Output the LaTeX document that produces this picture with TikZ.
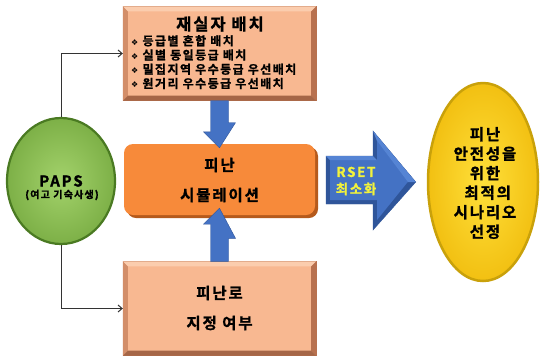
\documentclass[tikz,border=0pt]{standalone}
\usepackage{fontspec}
\setmainfont{Noto Sans CJK KR}[LetterSpace=12, BoldFont={Noto Sans CJK KR Bold}, BoldFeatures={FakeBold=1.2}]
\newfontfamily\dejavu{DejaVu Sans}
\usetikzlibrary{shapes.geometric,arrows.meta}
\definecolor{peach}{HTML}{F8B891}
\definecolor{peachL}{HTML}{FBCDAE}
\definecolor{peachD}{HTML}{D38E69}
\definecolor{peachDD}{HTML}{B8714F}
\definecolor{orangeM}{HTML}{F78A3A}
\definecolor{orangeD}{HTML}{B55A1C}
\definecolor{blueM}{HTML}{4472C4}
\definecolor{blueL}{HTML}{5584D4}
\definecolor{blueD}{HTML}{2F559A}
\definecolor{greenL}{HTML}{A3D26B}
\definecolor{greenM}{HTML}{7DB047}
\definecolor{greenD}{HTML}{4A7A22}
\definecolor{yelL}{HTML}{FFE03A}
\definecolor{yelM}{HTML}{F2C012}
\definecolor{yelD}{HTML}{C9A10A}
\definecolor{rsetY}{HTML}{F2F23C}
\tikzset{
  bevbox/.style={fill=peach, draw=peachDD, line width=0.4pt, inner sep=0pt},
  simbox/.style={fill=orangeM, rounded corners=9pt, inner sep=0pt},
  blockarrow/.style={fill=blueM, draw=blueD, line width=0.4pt},
  conn/.style={draw=black!80, line width=1pt, -{Straight Barb[length=4pt,width=7pt]}},
  kb/.style={font=\bfseries, text=black, inner sep=0pt},
}
\newcommand{\bul}{{\dejavu\fontsize{8}{10}\selectfont ❖}}
\begin{document}
\begin{tikzpicture}[x=1pt,y=-1pt]
\useasboundingbox (0,0) rectangle (541,360);
\fill[white] (0,0) rectangle (541,360);

% top bevel box
\node[bevbox, minimum width=193pt, minimum height=94pt] (top) at (219.5,53.5) {};
\fill[peachL] (top.north west) -- (top.north east) -- ([shift={(-5,5)}]top.north east) -- ([shift={(5,5)}]top.north west) -- cycle;
\fill[peachD] (top.north west) -- ([shift={(5,5)}]top.north west) -- ([shift={(5,-5)}]top.south west) -- (top.south west) -- cycle;
\fill[peachDD] (top.north east) -- ([shift={(-5,5)}]top.north east) -- ([shift={(-5,-5)}]top.south east) -- (top.south east) -- cycle;
\fill[peachDD!90!black] (top.south west) -- ([shift={(5,-5)}]top.south west) -- ([shift={(-5,-5)}]top.south east) -- (top.south east) -- cycle;
\node[kb, font=\fontsize{16.5}{18}\selectfont\bfseries] (toptitle) at (220,24) {재실자 배치};
\node[kb, anchor=north west, align=left, font=\fontsize{12}{14.2}\selectfont\bfseries] (toplist) at (131,35)
 {\bul\ 등급별 혼합 배치\\
  \bul\ 실별 동일등급 배치\\
  \bul\ 밀집지역 우수등급 우선배치\\
  \bul\ 원거리 우수등급 우선배치};

% center rounded box
\fill[orangeD, rounded corners=9pt] (127,147) rectangle (318,218);
\node[simbox, minimum width=191pt, minimum height=71pt] (sim) at (219.5,179.5) {};
\node[kb, font=\fontsize{15.5}{17}\selectfont\bfseries] (simt1) at (219.5,165) {피난};
\node[kb, font=\fontsize{15.5}{17}\selectfont\bfseries] (simt2) at (219.5,195) {시뮬레이션};

% bottom bevel box
\node[bevbox, minimum width=193pt, minimum height=94pt] (bot) at (219.5,308.5) {};
\fill[peachL] (bot.north west) -- (bot.north east) -- ([shift={(-5,5)}]bot.north east) -- ([shift={(5,5)}]bot.north west) -- cycle;
\fill[peachD] (bot.north west) -- ([shift={(5,5)}]bot.north west) -- ([shift={(5,-5)}]bot.south west) -- (bot.south west) -- cycle;
\fill[peachDD] (bot.north east) -- ([shift={(-5,5)}]bot.north east) -- ([shift={(-5,-5)}]bot.south east) -- (bot.south east) -- cycle;
\fill[peachDD!90!black] (bot.south west) -- ([shift={(5,-5)}]bot.south west) -- ([shift={(-5,-5)}]bot.south east) -- (bot.south east) -- cycle;
\node[kb, font=\fontsize{15.5}{17}\selectfont\bfseries] (bott1) at (219.5,293) {피난로};
\node[kb, font=\fontsize{15.5}{17}\selectfont\bfseries] (bott2) at (219.5,323) {지정 여부};

% block arrows between boxes
\filldraw[blockarrow] ([xshift=-9pt]top.south) -- ([xshift=9pt]top.south) -- ++(0,22) -- ++(7,0)
   -- ([yshift=-4pt]sim.north) -- ++(-16,-16) -- ++(7,0) -- cycle;
\filldraw[blockarrow] ([xshift=-9pt]bot.north) -- ([xshift=9pt]bot.north) -- ++(0,-23) -- ++(7,0)
   -- ([yshift=7pt]sim.south) -- ++(-16,16) -- ++(7,0) -- cycle;

% green ellipse
\node[ellipse, minimum width=108pt, minimum height=126pt, draw=greenD, line width=2.2pt,
      inner color=greenL, outer color=greenM] (paps) at (61,181) {};
\node[kb, font=\fontsize{15}{16}\selectfont\bfseries] (papst) at (61,181) {PAPS};
\node[kb, font=\fontsize{10}{11}\selectfont\bfseries] (papss) at (62,195) {(여고 기숙사생)};

% connectors
\draw[conn] (paps.north) |- (top.west);
\draw[conn] (paps.south) |- (bot.west);

% yellow ellipse
\node[ellipse, minimum width=110pt, minimum height=198pt, draw=yelD, line width=2.5pt,
      inner color=yelL, outer color=yelM] (res) at (483,182) {};
\node[kb, align=center, font=\fontsize{15.5}{19.5}\selectfont\bfseries] (rest) at (485,183)
 {피난\\안전성을\\위한\\\ 최적의\\시나리오\\선정};

% big blue arrow
\coordinate (bigtip) at ([xshift=-11pt]res.west);
\filldraw[fill=blueD, draw=blueD, line width=0.4pt] (326,156) -- (373,156) -- (373,131) -- (bigtip) -- (373,230) -- (373,204) -- (326,204) -- cycle;
\fill[blueM] (330,160) -- (377,160) -- (377,141) -- ([xshift=-8pt]bigtip) -- (377,220) -- (377,200) -- (330,200) -- cycle;
\fill[blueL] (326,156) -- (373,156) -- (377,160) -- (330,160) -- cycle;
\fill[blueL] (373,131) -- (bigtip) -- ([xshift=-8pt]bigtip) -- (377,141) -- cycle;
\node[kb, text=rsetY, align=center, font=\fontsize{13.5}{17}\selectfont\bfseries] (rset) at (356,181)
 {RSET\\최소화};
\end{tikzpicture}
\end{document}
